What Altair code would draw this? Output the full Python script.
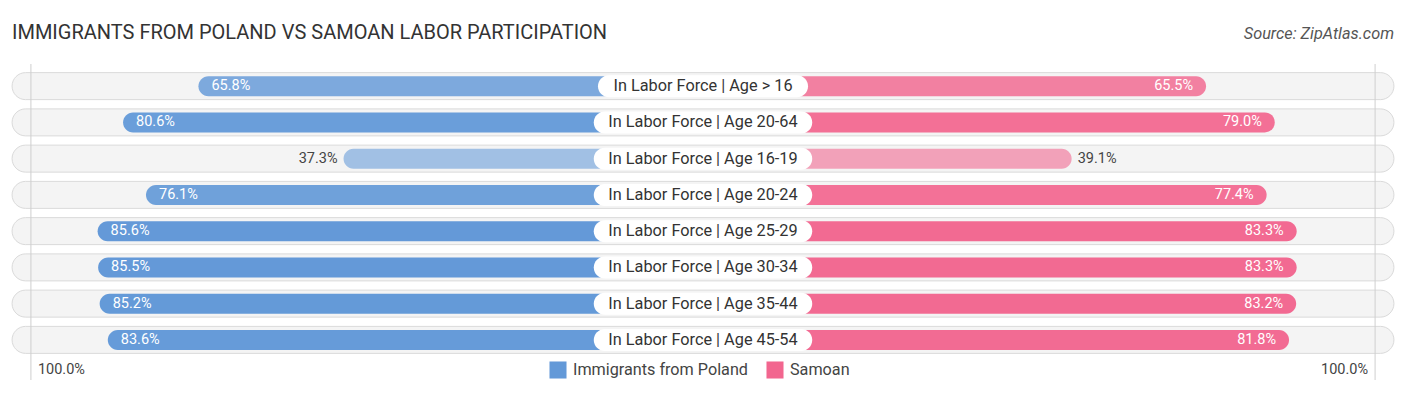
import altair as alt
import pandas as pd

categories = [
    "In Labor Force | Age > 16",
    "In Labor Force | Age 20-64",
    "In Labor Force | Age 16-19",
    "In Labor Force | Age 20-24",
    "In Labor Force | Age 25-29",
    "In Labor Force | Age 30-34",
    "In Labor Force | Age 35-44",
    "In Labor Force | Age 45-54",
]
poland = [65.8, 80.6, 37.3, 76.1, 85.6, 85.5, 85.2, 83.6]
samoan = [65.5, 79.0, 39.1, 77.4, 83.3, 83.3, 83.2, 81.8]
series = ["Immigrants from Poland", "Samoan"]
colors = ["#6399d8", "#f2668f"]

OFFSET = 33.3   # hidden part of each bar behind the centre label (in % units)
DOMAIN = 136.5
ROW_EXT = 135.7
GRID_AT = 98.7

rows = []
for i, c in enumerate(categories):
    for s, vals, sign in ((series[0], poland, -1), (series[1], samoan, 1)):
        v = vals[i]
        rows.append({
            "cat": c, "series": s, "value": v, "side": "L" if sign < 0 else "R",
            "x0": 0.0, "x1": sign * (OFFSET + v),
            "label": f"{v:.1f}%", "inside": "Y" if v > 50 else "N",
        })
df = pd.DataFrame(rows)

cats = pd.DataFrame({
    "cat": categories,
    "lo": [-ROW_EXT] * len(categories),
    "hi": [ROW_EXT] * len(categories),
    "half": [len(c) * 4.2 / 5.09 for c in categories],
})
cats["plo"] = -cats["half"]
cats["phi"] = cats["half"]

xs = alt.Scale(domain=[-DOMAIN, DOMAIN], nice=False, zero=False)
ys = alt.Scale(domain=categories, range=[60, 350], paddingInner=0, paddingOuter=0)
Y = alt.Y("cat:N", scale=ys, axis=None)

bg = alt.Chart(cats).mark_bar(
    size=27, cornerRadius=13.5, fill="#f4f4f4", stroke="#dadada", strokeWidth=1
).encode(x=alt.X("lo:Q", scale=xs, axis=None), x2="hi:Q", y=Y)

grid = alt.Chart(pd.DataFrame({"g": [-(OFFSET + GRID_AT), OFFSET + GRID_AT]})).mark_rule(
    color="#cfcfcf", strokeWidth=1
).encode(x=alt.X("g:Q", scale=xs, axis=None), y=alt.value(56), y2=alt.value(372))

bars = alt.Chart(df).mark_bar(size=20, cornerRadius=10).encode(
    x=alt.X("x0:Q", scale=xs, axis=None), x2="x1:Q", y=Y,
    color=alt.Color("series:N", scale=alt.Scale(domain=series, range=colors), legend=None),
    opacity=alt.Opacity("value:Q", scale=alt.Scale(domain=[35, 86], range=[0.55, 1.0]),
                        legend=None),
)

pill = alt.Chart(cats).mark_bar(size=22, cornerRadius=11, fill="white").encode(
    x=alt.X("plo:Q", scale=xs, axis=None), x2="phi:Q", y=Y)
pill_txt = alt.Chart(cats).mark_text(font="Roboto", fontSize=16.3, color="#333333").encode(
    x=alt.value(695), y=Y, text="cat:N")

def lab(side, inside, align, dx, color):
    return alt.Chart(df).transform_filter(
        (alt.datum.side == side) & (alt.datum.inside == inside)
    ).mark_text(font="Roboto", fontSize=14.5, align=align, dx=dx, color=color).encode(
        x=alt.X("x1:Q", scale=xs, axis=None), y=Y, text="label:N")

labels = [
    lab("L", "Y", "left", 13, "white"),
    lab("L", "N", "right", -6, "#444444"),
    lab("R", "Y", "right", -13, "white"),
    lab("R", "N", "left", 6, "#444444"),
]

ends_df = pd.DataFrame({"g": [-(OFFSET + GRID_AT), OFFSET + GRID_AT], "t": ["100.0%", "100.0%"], "a": ["L", "R"]})
end_l = alt.Chart(ends_df).transform_filter(alt.datum.a == "L").mark_text(
    font="Roboto", fontSize=14.5, align="left", dx=7, color="#444444").encode(
    x=alt.X("g:Q", scale=xs, axis=None), y=alt.value(362), text="t:N")
end_r = alt.Chart(ends_df).transform_filter(alt.datum.a == "R").mark_text(
    font="Roboto", fontSize=14.5, align="right", dx=-7, color="#444444").encode(
    x=alt.X("g:Q", scale=xs, axis=None), y=alt.value(362), text="t:N")

# legend
leg_df = pd.DataFrame({"series": series, "px": [550, 767]})
leg_sq = alt.Chart(leg_df).mark_square(size=290, opacity=1, filled=True).encode(
    x=alt.X("px:Q", scale=None), y=alt.value(362),
    color=alt.Color("series:N", scale=alt.Scale(domain=series, range=colors), legend=None))
leg_tx = alt.Chart(leg_df).mark_text(font="Roboto", fontSize=16.2, align="left", dx=15,
                                     color="#444444").encode(
    x=alt.X("px:Q", scale=None), y=alt.value(362), text="series:N")

title = alt.Chart(pd.DataFrame({"t": ["IMMIGRANTS FROM POLAND VS SAMOAN LABOR PARTICIPATION"]})).mark_text(
    font="Roboto", fontSize=20, align="left", color="#333333").encode(
    x=alt.value(4), y=alt.value(25), text="t:N")
source = alt.Chart(pd.DataFrame({"t": ["Source: ZipAtlas.com"]})).mark_text(
    font="Roboto", fontSize=16.3, fontStyle="italic", align="right", color="#555555").encode(
    x=alt.value(1386), y=alt.value(26), text="t:N")

chart = alt.layer(bg, grid, bars, pill, pill_txt, *labels, end_l, end_r,
                  leg_sq, leg_tx, title, source).properties(
    width=1390, height=379,
    autosize=alt.AutoSizeParams(type="none"),
    padding=0,
).configure_view(strokeWidth=0)

chart.save("out.html", embed_options={"renderer": "svg", "actions": False})
